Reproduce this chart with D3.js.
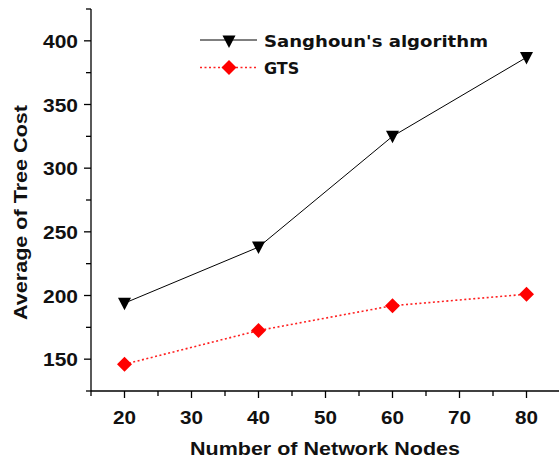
<!DOCTYPE html>
<html><head><meta charset="utf-8">
<script src="https://cdn.jsdelivr.net/npm/d3@7"></script>
<style>body{margin:0;background:#fff}svg{display:block}</style>
</head><body>
<svg id="chart" width="559" height="460"></svg>
<script>
const nodes = [20, 40, 60, 80];
const sanghoun = [194, 238, 325, 387];
const gts = [146, 172.5, 192, 201];
const xTicks = [20, 30, 40, 50, 60, 70, 80];
const yTicks = [150, 200, 250, 300, 350, 400];
const seriesNames = ["Sanghoun's algorithm", "GTS"];

const svg = d3.select("#chart");
const x = d3.scaleLinear().domain([15, 85]).range([91, 560]);
const y = d3.scaleLinear().domain([125, 425]).range([391, 9]);

const tickFont = "'Liberation Sans', Arial, sans-serif";

// X axis
const xAxis = svg.append("g").attr("transform", `translate(0,${y(125)})`);
xAxis.append("line").attr("x1", x(15)).attr("x2", 559).attr("stroke", "#000").attr("stroke-width", 1.3);
const xMinor = d3.range(15, 86, 5);
xAxis.selectAll(".xt").data(xMinor).join("line")
  .attr("x1", d => x(d)).attr("x2", d => x(d))
  .attr("y1", 0).attr("y2", d => d % 10 === 0 ? 7 : 5)
  .attr("stroke", "#000").attr("stroke-width", 1.3);
xAxis.selectAll(".xl").data(xTicks).join("text")
  .attr("x", d => x(d)).attr("y", 33)
  .attr("text-anchor", "middle")
  .attr("font-family", tickFont).attr("font-weight", "bold").attr("font-size", 19)
  .attr("fill", "#111")
  .attr("textLength", 23).attr("lengthAdjust", "spacingAndGlyphs")
  .text(d => d);

// Y axis
const yAxis = svg.append("g").attr("transform", `translate(${x(15)},0)`);
yAxis.append("line").attr("y1", y(125)).attr("y2", y(425)).attr("stroke", "#000").attr("stroke-width", 1.3);
const yMinor = d3.range(125, 426, 25);
yAxis.selectAll(".yt").data(yMinor).join("line")
  .attr("y1", d => y(d)).attr("y2", d => y(d))
  .attr("x1", 0).attr("x2", d => d % 50 === 0 ? -7 : -5)
  .attr("stroke", "#000").attr("stroke-width", 1.3);
yAxis.selectAll(".yl").data(yTicks).join("text")
  .attr("x", -13).attr("y", d => y(d) + 7)
  .attr("text-anchor", "end")
  .attr("font-family", tickFont).attr("font-weight", "bold").attr("font-size", 19)
  .attr("fill", "#111")
  .attr("textLength", 35).attr("lengthAdjust", "spacingAndGlyphs")
  .text(d => d);

// Axis titles
svg.append("text")
  .attr("x", 325).attr("y", 455)
  .attr("text-anchor", "middle")
  .attr("font-family", tickFont).attr("font-weight", "bold").attr("font-size", 18)
  .attr("fill", "#111")
  .attr("textLength", 270).attr("lengthAdjust", "spacingAndGlyphs")
  .text("Number of Network Nodes");
svg.append("text")
  .attr("transform", "translate(27,212.5) rotate(-90)")
  .attr("text-anchor", "middle")
  .attr("font-family", tickFont).attr("font-weight", "bold").attr("font-size", 19)
  .attr("fill", "#111")
  .attr("textLength", 215).attr("lengthAdjust", "spacingAndGlyphs")
  .text("Average of Tree Cost");

// Lines
const line = d3.line().x(d => x(d[0])).y(d => y(d[1]));
const sData = nodes.map((n, i) => [n, sanghoun[i]]);
const gData = nodes.map((n, i) => [n, gts[i]]);

svg.append("path").datum(sData).attr("d", line)
  .attr("fill", "none").attr("stroke", "#000").attr("stroke-width", 1);
svg.append("path").datum(gData).attr("d", line)
  .attr("fill", "none").attr("stroke", "#ff2020").attr("stroke-width", 1.6)
  .attr("stroke-dasharray", "2,2.5");

const tri = "M-6.5,-5.5 L6.5,-5.5 L0,7 Z";
const dia = "M0,-7.5 L7.5,0 L0,7.5 L-7.5,0 Z";

svg.selectAll(".sm").data(sData).join("path")
  .attr("d", tri).attr("transform", d => `translate(${x(d[0])},${y(d[1])})`)
  .attr("fill", "#000");
svg.selectAll(".gm").data(gData).join("path")
  .attr("d", dia).attr("transform", d => `translate(${x(d[0])},${y(d[1])})`)
  .attr("fill", "#ff0000");

// Legend
const legFont = "'DejaVu Sans', Verdana, sans-serif";
const leg = svg.append("g");
leg.append("line").attr("x1", 200).attr("x2", 257).attr("y1", 40).attr("y2", 40)
  .attr("stroke", "#000").attr("stroke-width", 1);
leg.append("path").attr("d", tri).attr("transform", "translate(229,41)").attr("fill", "#000");
leg.append("text").attr("x", 264).attr("y", 47)
  .attr("font-family", legFont).attr("font-weight", "bold").attr("font-size", 16)
  .attr("fill", "#111")
  .attr("textLength", 224).attr("lengthAdjust", "spacingAndGlyphs")
  .text(seriesNames[0]);
leg.append("line").attr("x1", 200).attr("x2", 257).attr("y1", 67.5).attr("y2", 67.5)
  .attr("stroke", "#ff2020").attr("stroke-width", 1.6).attr("stroke-dasharray", "2,2.5");
leg.append("path").attr("d", dia).attr("transform", "translate(229,67.5)").attr("fill", "#ff0000");
leg.append("text").attr("x", 264).attr("y", 74)
  .attr("font-family", legFont).attr("font-weight", "bold").attr("font-size", 16)
  .attr("fill", "#111")
  .text(seriesNames[1]);
</script>
</body></html>
